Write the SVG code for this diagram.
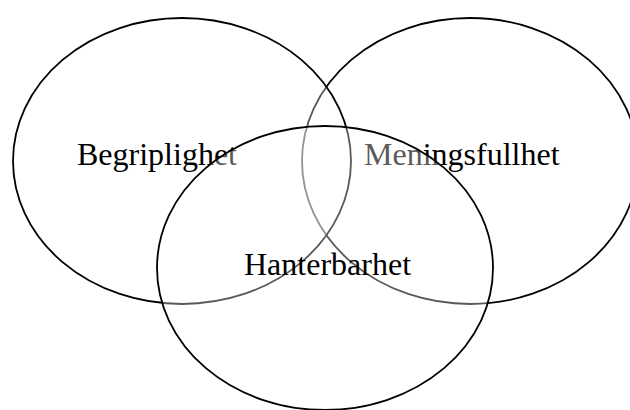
<svg xmlns="http://www.w3.org/2000/svg" width="630" height="410" viewBox="0 0 630 410">
  <style>
    .set { fill: #ffffff; fill-opacity: 0.35; stroke: #000000; stroke-width: 1.8; }
    .lbl { font-family: "Liberation Serif", "Times New Roman", serif; font-size: 32px; fill: #000000; }
  </style>
  <rect x="0" y="0" width="630" height="410" fill="#ffffff"/>
  <g id="meningsfullhet">
    <ellipse class="set" cx="470" cy="161" rx="168" ry="143"/>
    <text class="lbl" x="364" y="165">Meningsfullhet</text>
  </g>
  <g id="begriplighet">
    <ellipse class="set" cx="182" cy="161" rx="169" ry="143"/>
    <text class="lbl" x="77" y="165">Begriplighet</text>
  </g>
  <g id="hanterbarhet">
    <ellipse class="set" cx="325" cy="268" rx="168" ry="142"/>
    <text class="lbl" x="244" y="275">Hanterbarhet</text>
  </g>
  <g id="connectors"></g>
</svg>
